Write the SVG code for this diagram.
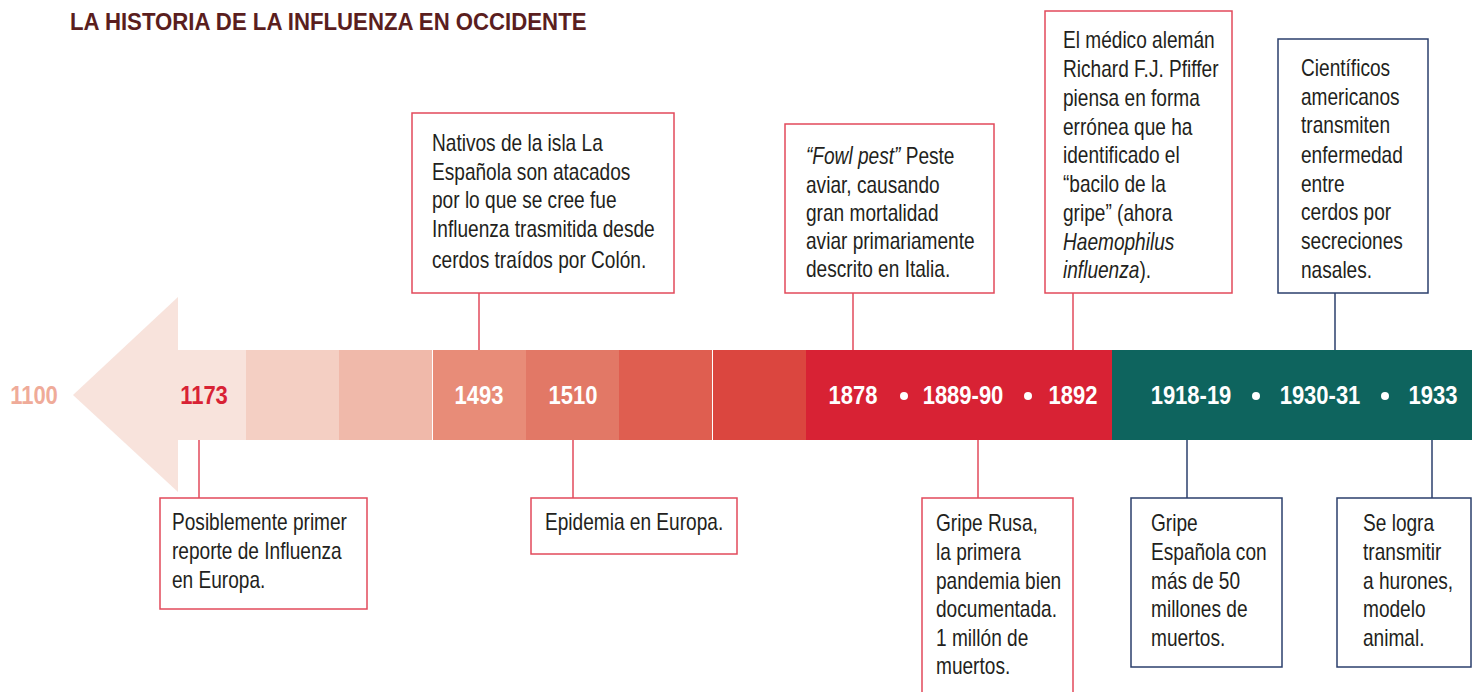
<svg xmlns="http://www.w3.org/2000/svg" width="1472" height="692" viewBox="0 0 1472 692">
<style>
.t{font-family:"Liberation Sans","Arial",sans-serif;font-size:23px;fill:#231f20}
.i{font-style:italic}
.yr{font-family:"Liberation Sans","Arial",sans-serif;font-size:25px;font-weight:bold;fill:#ffffff;text-anchor:middle}
.title{font-family:"Liberation Sans","Arial",sans-serif;font-size:23px;font-weight:bold;fill:#5a1e1e}
.rb{fill:#ffffff;stroke:#e24a5b;stroke-width:1.5}
.nb{fill:#ffffff;stroke:#2b3f6c;stroke-width:1.5}
.rl{stroke:#e24a5b;stroke-width:1.5;fill:none}
.nl{stroke:#2b3f6c;stroke-width:1.5;fill:none}
</style>
<rect width="1472" height="692" fill="#ffffff"/>
<text class="title" transform="translate(70,30) scale(0.965,1)">LA HISTORIA DE LA INFLUENZA EN OCCIDENTE</text>

<g id="timeline">
<polygon points="178,297 73,395 178,492" fill="#f8e3dc"/>
<rect x="153" y="350" width="93" height="90" fill="#f8e3dc"/>
<rect x="246" y="350" width="93" height="90" fill="#f4cfc3"/>
<rect x="339" y="350" width="93" height="90" fill="#f0b9aa"/>
<rect x="433" y="350" width="93" height="90" fill="#e88c78"/>
<rect x="526" y="350" width="93" height="90" fill="#e27866"/>
<rect x="619" y="350" width="93" height="90" fill="#df5e50"/>
<rect x="713" y="350" width="93" height="90" fill="#db463f"/>
<rect x="806" y="350" width="306" height="90" fill="#d82234"/>
<rect x="1112" y="350" width="360" height="90" fill="#0e645e"/>
<text class="yr" transform="translate(34,404) scale(0.88,1)" style="fill:#efab99">1100</text>
<text class="yr" transform="translate(204,404) scale(0.88,1)" style="fill:#d82234">1173</text>
<text class="yr" transform="translate(479,404) scale(0.88,1)">1493</text>
<text class="yr" transform="translate(573,404) scale(0.88,1)">1510</text>
<text class="yr" transform="translate(853,404) scale(0.88,1)">1878</text>
<text class="yr" transform="translate(963,404) scale(0.88,1)">1889-90</text>
<text class="yr" transform="translate(1073,404) scale(0.88,1)">1892</text>
<text class="yr" transform="translate(1191,404) scale(0.88,1)">1918-19</text>
<text class="yr" transform="translate(1320,404) scale(0.88,1)">1930-31</text>
<text class="yr" transform="translate(1433,404) scale(0.88,1)">1933</text>
<circle cx="904" cy="396" r="4" fill="#ffffff"/>
<circle cx="1028" cy="396" r="4" fill="#ffffff"/>
<circle cx="1256" cy="396" r="4" fill="#ffffff"/>
<circle cx="1385" cy="396" r="4" fill="#ffffff"/>
</g>

<g id="connectors">
<line class="rl" x1="479" y1="293" x2="479" y2="350"/>
<line class="rl" x1="853" y1="293" x2="853" y2="350"/>
<line class="rl" x1="1073" y1="293" x2="1073" y2="350"/>
<line class="nl" x1="1335" y1="293" x2="1335" y2="350"/>
<line class="rl" x1="199" y1="440" x2="199" y2="498"/>
<line class="rl" x1="573" y1="440" x2="573" y2="498"/>
<line class="rl" x1="978" y1="440" x2="978" y2="498"/>
<line class="nl" x1="1187" y1="440" x2="1187" y2="498"/>
<line class="nl" x1="1432" y1="440" x2="1432" y2="498"/>
</g>

<g id="n1493">
<rect class="rb" x="412" y="113" width="262" height="180"/>
<g transform="translate(432,0) scale(0.83,1)">
<text class="t" x="0" y="151">Nativos de la isla La</text>
<text class="t" x="0" y="180">Española son atacados</text>
<text class="t" x="0" y="208">por lo que se cree fue</text>
<text class="t" x="0" y="237">Influenza trasmitida desde</text>
<text class="t" x="0" y="268">cerdos traídos por Colón.</text>
</g>
</g>

<g id="n1878">
<rect class="rb" x="785" y="124" width="209" height="169"/>
<g transform="translate(806,0) scale(0.83,1)">
<text class="t" x="0" y="164"><tspan class="i">“Fowl pest”</tspan> Peste</text>
<text class="t" x="0" y="193">aviar, causando</text>
<text class="t" x="0" y="221">gran mortalidad</text>
<text class="t" x="0" y="249">aviar primariamente</text>
<text class="t" x="0" y="277">descrito en Italia.</text>
</g>
</g>

<g id="n1892">
<rect class="rb" x="1045" y="11" width="187" height="282"/>
<g transform="translate(1063,0) scale(0.83,1)">
<text class="t" x="0" y="48">El médico alemán</text>
<text class="t" x="0" y="77">Richard F.J. Pfiffer</text>
<text class="t" x="0" y="106">piensa en forma</text>
<text class="t" x="0" y="135">errónea que ha</text>
<text class="t" x="0" y="163">identificado el</text>
<text class="t" x="0" y="192">“bacilo de la</text>
<text class="t" x="0" y="221">gripe” (ahora</text>
<text class="t i" x="0" y="250">Haemophilus</text>
<text class="t" x="0" y="278"><tspan class="i">influenza</tspan>).</text>
</g>
</g>

<g id="n1930">
<rect class="nb" x="1278" y="39" width="150" height="254"/>
<g transform="translate(1301,0) scale(0.83,1)">
<text class="t" x="0" y="76">Científicos</text>
<text class="t" x="0" y="105">americanos</text>
<text class="t" x="0" y="133">transmiten</text>
<text class="t" x="0" y="163">enfermedad</text>
<text class="t" x="0" y="192">entre</text>
<text class="t" x="0" y="220">cerdos por</text>
<text class="t" x="0" y="249">secreciones</text>
<text class="t" x="0" y="278">nasales.</text>
</g>
</g>

<g id="n1173">
<rect class="rb" x="160" y="498" width="207" height="111"/>
<g transform="translate(172,0) scale(0.83,1)">
<text class="t" x="0" y="530">Posiblemente primer</text>
<text class="t" x="0" y="559">reporte de Influenza</text>
<text class="t" x="0" y="588">en Europa.</text>
</g>
</g>

<g id="n1510">
<rect class="rb" x="531" y="498" width="206" height="56"/>
<g transform="translate(545,0) scale(0.83,1)">
<text class="t" x="0" y="530">Epidemia en Europa.</text>
</g>
</g>

<g id="n1889">
<path class="rl" d="M922,700 V498 H1073 V700"/>
<g transform="translate(936,0) scale(0.83,1)">
<text class="t" x="0" y="531">Gripe Rusa,</text>
<text class="t" x="0" y="560">la primera</text>
<text class="t" x="0" y="589">pandemia bien</text>
<text class="t" x="0" y="617">documentada.</text>
<text class="t" x="0" y="646">1 millón de</text>
<text class="t" x="0" y="674">muertos.</text>
</g>
</g>

<g id="n1918">
<rect class="nb" x="1131" y="498" width="151" height="169"/>
<g transform="translate(1151,0) scale(0.83,1)">
<text class="t" x="0" y="531">Gripe</text>
<text class="t" x="0" y="560">Española con</text>
<text class="t" x="0" y="589">más de 50</text>
<text class="t" x="0" y="617">millones de</text>
<text class="t" x="0" y="646">muertos.</text>
</g>
</g>

<g id="n1933">
<rect class="nb" x="1337" y="498" width="134" height="169"/>
<g transform="translate(1363,0) scale(0.83,1)">
<text class="t" x="0" y="531">Se logra</text>
<text class="t" x="0" y="560">transmitir</text>
<text class="t" x="0" y="589">a hurones,</text>
<text class="t" x="0" y="617">modelo</text>
<text class="t" x="0" y="646">animal.</text>
</g>
</g>
</svg>
